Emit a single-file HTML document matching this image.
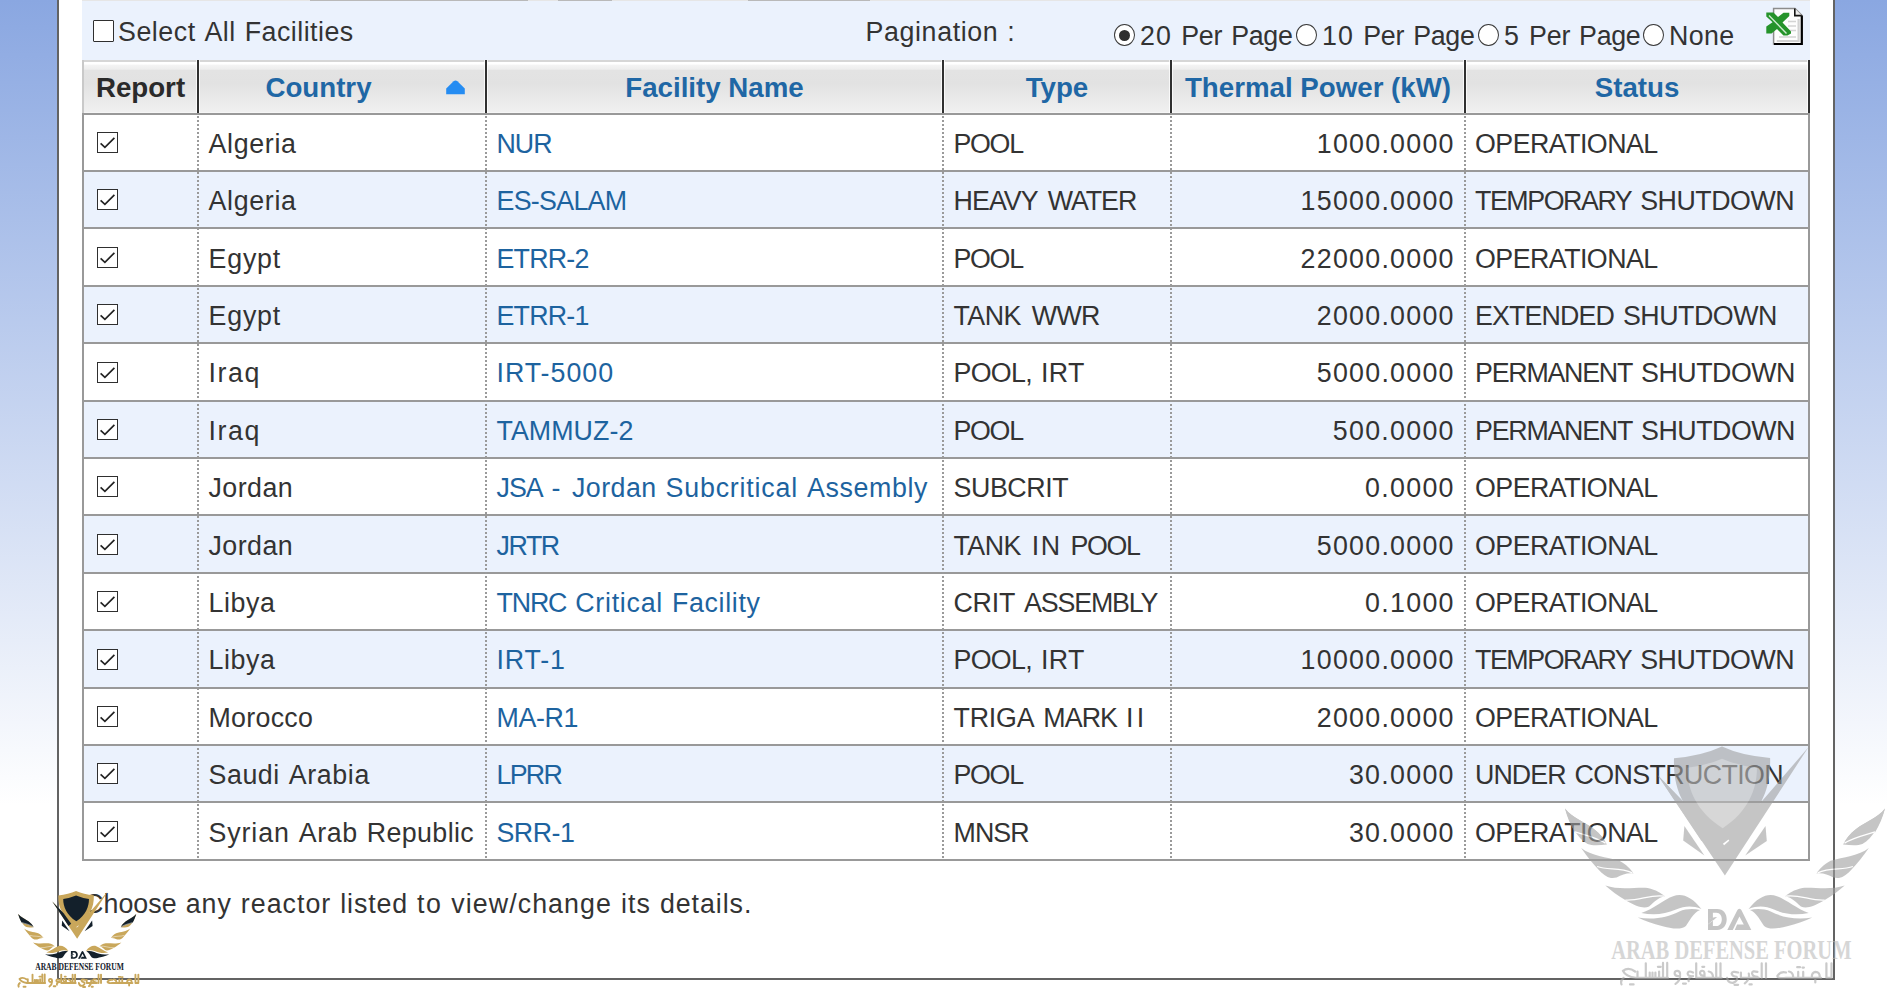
<!DOCTYPE html>
<html lang="en">
<head>
<meta charset="utf-8">
<title>Research Reactor Database</title>
<style>
html,body{margin:0;padding:0}
body{width:1887px;height:990px;overflow:hidden;position:relative;font-family:"Liberation Sans",sans-serif;font-size:26.8px;color:#333;
 background:linear-gradient(to bottom,#8aa7e1 0px,#ffffff 805px,#ffffff 990px);}
#wrap{position:absolute;left:57px;top:-10px;width:1774px;height:986px;border:2px solid #636363;background:#fff}
#panel{position:absolute;left:82px;top:0;width:1728px;height:62px;background:#ebf2fd}
#strip{position:absolute;left:82px;top:0;width:1728px;height:1px;background:#e6e6e6}
.seg{position:absolute;top:0;height:1px;background:#b9b9b9}
.t{position:absolute;white-space:nowrap;letter-spacing:1.46px;line-height:30px;height:30px}
.cbx{position:absolute;width:19px;height:20px;border:1px solid #2f2f2f;background:#fff;border-radius:1px}
.rad{position:absolute;width:19px;height:20px;border:1px solid #3a3a3a;background:#fff;border-radius:50%}
.rad.on:after{content:"";position:absolute;left:4px;top:4.5px;width:11px;height:11px;border-radius:50%;background:#2f2f2f}
#hdr{position:absolute;left:82px;top:60px;width:1728px;height:53px;
 background:linear-gradient(to bottom,#d6d6d6 0,#d6d6d6 2px,#ffffff 2px,#ffffff 3.8px,#f3f3f3 5.5px,#eeeeee 9px,#e3e3e3 10.5px,#e2e2e2 24px,#efefef 50px,#f0f0f0 52px,#f6f6f6 52px,#f6f6f6 53px)}
#hdr:before{content:"";position:absolute;left:0;top:0;width:2px;height:53px;background:#c9c9c9}
.hs{position:absolute;top:60px;width:2px;height:53px;background:#303030;box-shadow:-1px 0 0 rgba(255,255,255,.75),1px 0 0 rgba(255,255,255,.75)}
.h{position:absolute;top:68px;height:40px;line-height:40px;font-weight:bold;font-size:27.7px;color:#1f67a5;text-align:center;white-space:nowrap}
#tbl{position:absolute;left:82px;top:113px;width:1724px;height:746px;border:2px solid #999;border-top:none}
.dot{position:absolute;top:116px;width:2px;height:743px;background:repeating-linear-gradient(to bottom,#9a9a9a 0,#9a9a9a 2px,transparent 2px,transparent 4px)}
.row{position:absolute;left:84px;width:1724px;border-top:2px solid #999;box-sizing:border-box;background:#fff}
.row.alt{background:#ebf2fd}
.cb{position:absolute;left:13px;top:17px;width:19px;height:19px;border:1px solid #2f2f2f;background:#fff;display:block}
.cb svg{position:absolute;left:-1px;top:-1px}
.c{position:absolute;letter-spacing:1.46px;top:10px;height:38px;line-height:38px;white-space:nowrap}
.c2{left:124.5px}.c3{left:412.5px}.c4{left:869.5px}.c5{right:354.5px;text-align:right}.c6{left:1391px}
.lk{color:#1d639f}
.lgo{position:absolute;overflow:hidden}
#lg .a{fill:var(--a)}#lg .b{fill:var(--b)}#lg .c{fill:var(--c)}#lg .w{fill:#fff}
#lg .v{fill:none;stroke:#fff;stroke-width:1.3}
#lgar .ar{fill:none;stroke:var(--d);stroke-width:var(--sw);stroke-linecap:round;stroke-linejoin:round}
#lgtx .tx{font-family:"Liberation Serif",serif;font-weight:bold;font-size:26.7px;fill:var(--e)}
</style>
</head>
<body>
<div id="wrap"></div>
<div id="panel"></div>
<div id="strip"></div>
<div class="seg" style="left:310px;width:218px"></div>
<div class="seg" style="left:558px;width:54px"></div>
<div class="seg" style="left:748px;width:122px"></div>
<div class="cbx" style="left:93px;top:20px"></div>
<div class="t" style="left:118px;top:17px"><span style="letter-spacing:0.52px">Select</span> <span style="letter-spacing:0.48px">All</span> <span style="letter-spacing:0.48px">Facilities</span></div>
<div class="t" style="left:865.5px;top:17px"><span style="letter-spacing:0.62px">Pagination</span> <span style="letter-spacing:4.06px">:</span></div>
<div class="rad on" style="left:1114px;top:24px"></div>
<div class="t" style="left:1140px;top:21px"><span style="letter-spacing:1.2px">20</span> <span style="letter-spacing:-0.18px">Per</span> <span style="letter-spacing:-0.31px">Page</span></div>
<div class="rad" style="left:1296px;top:24px"></div>
<div class="t" style="left:1322px;top:21px"><span style="letter-spacing:1.2px">10</span> <span style="letter-spacing:-0.18px">Per</span> <span style="letter-spacing:-0.31px">Page</span></div>
<div class="rad" style="left:1478px;top:24px"></div>
<div class="t" style="left:1504px;top:21px"><span style="letter-spacing:1.2px">5</span> <span style="letter-spacing:-0.18px">Per</span> <span style="letter-spacing:-0.31px">Page</span></div>
<div class="rad" style="left:1643px;top:24px"></div>
<div class="t" style="left:1669px;top:21px"><span style="letter-spacing:0.34px">None</span></div>
<svg id="xl" style="position:absolute;left:1764px;top:6px" width="42" height="42" viewBox="0 0 42 42">
 <path d="M9.6 2.6 H31 L37.8 9.4 V38 H9.6 Z" fill="#fdfdfd" stroke="#8c8c8c" stroke-width="1.5"/>
 <path d="M12.8 35 H34.6 V13" fill="none" stroke="#d2d2d2" stroke-width="2.2"/>
 <path d="M10 38 H37.8 V9.6" fill="none" stroke="#000" stroke-width="2.2"/>
 <path d="M30.8 2.6 V9.6 H37.8" fill="#ededed" stroke="#151515" stroke-width="1.6"/>
 <path d="M24 15.5h8M24 20h8M24 24.5h8M15 31h17" stroke="#d4d4d4" stroke-width="1.5"/>
 <path d="M2.3 6.4 H9.5 L14 11 L19.5 6.8 H25.3 V10 L18.5 16.5 L27 25.5 V27.5 L23.5 29.6 H19.5 L13 23 L7.5 27.4 H2.3 V20.6 L8.6 16.2 L2.3 10.6 Z" fill="#25932a"/>
 <path d="M5 9.6 L22.5 27.4" stroke="#cfeacf" stroke-width="1.4"/>
</svg>
<div id="hdr"></div>
<div class="hs" style="left:197px"></div>
<div class="hs" style="left:485px"></div>
<div class="hs" style="left:942px"></div>
<div class="hs" style="left:1170px"></div>
<div class="hs" style="left:1464px"></div>
<div class="hs" style="left:1808px"></div>
<div class="h" style="left:84px;width:113px;color:#2a2a2a">Report</div>
<div class="h" style="left:199px;width:239px">Country</div>
<svg style="position:absolute;left:445px;top:79px" width="22" height="17" viewBox="0 0 22 17"><path d="M1.2 15.2 V9.6 L8.6 2.2 Q10.5 0.6 12.4 2.2 L19.8 9.6 V15.2 Z" fill="#258cf2"/></svg>
<div class="h" style="left:487px;width:455px">Facility Name</div>
<div class="h" style="left:944px;width:226px">Type</div>
<div class="h" style="left:1172px;width:292px">Thermal Power (kW)</div>
<div class="h" style="left:1466px;width:342px">Status</div>
<div id="tbl"></div>

<div class="row" style="top:113px;height:57px">
<i class="cb" style="top:17px"><svg viewBox="0 0 21 21" width="21" height="21"><path d="M3.6 11.4 L7.9 15.3 L17.4 5.8" fill="none" stroke="#222" stroke-width="1.7"/></svg></i>
<div class="c c2"><span style="letter-spacing:0.67px">Algeria</span></div>
<div class="c c3 lk"><span style="letter-spacing:-0.99px">NUR</span></div>
<div class="c c4"><span style="letter-spacing:-1.3px">POOL</span></div>
<div class="c c5"><span style="letter-spacing:1.26px;margin-right:-1.26px">1000.0000</span></div>
<div class="c c6"><span style="letter-spacing:-0.54px">OPERATIONAL</span></div>
</div>
<div class="row alt" style="top:170px;height:57px">
<i class="cb" style="top:17px"><svg viewBox="0 0 21 21" width="21" height="21"><path d="M3.6 11.4 L7.9 15.3 L17.4 5.8" fill="none" stroke="#222" stroke-width="1.7"/></svg></i>
<div class="c c2"><span style="letter-spacing:0.67px">Algeria</span></div>
<div class="c c3 lk"><span style="letter-spacing:-0.7px">ES-SALAM</span></div>
<div class="c c4"><span style="letter-spacing:-0.92px;margin-right:1.0px">HEAVY</span> <span style="letter-spacing:-1.04px;margin-right:3.0px">WATER</span></div>
<div class="c c5"><span style="letter-spacing:1.26px;margin-right:-1.26px">15000.0000</span></div>
<div class="c c6"><span style="letter-spacing:-1.44px">TEMPORARY</span> <span style="letter-spacing:-0.48px">SHUTDOWN</span></div>
</div>
<div class="row" style="top:227px;height:58px">
<div style="position:absolute;left:0;top:1px;width:100%;height:1px">
<i class="cb" style="top:17px"><svg viewBox="0 0 21 21" width="21" height="21"><path d="M3.6 11.4 L7.9 15.3 L17.4 5.8" fill="none" stroke="#222" stroke-width="1.7"/></svg></i>
<div class="c c2"><span style="letter-spacing:0.81px">Egypt</span></div>
<div class="c c3 lk"><span style="letter-spacing:-0.77px">ETRR-2</span></div>
<div class="c c4"><span style="letter-spacing:-1.3px">POOL</span></div>
<div class="c c5"><span style="letter-spacing:1.26px;margin-right:-1.26px">22000.0000</span></div>
<div class="c c6"><span style="letter-spacing:-0.54px">OPERATIONAL</span></div>
</div>
</div>
<div class="row alt" style="top:285px;height:57px">
<i class="cb" style="top:17px"><svg viewBox="0 0 21 21" width="21" height="21"><path d="M3.6 11.4 L7.9 15.3 L17.4 5.8" fill="none" stroke="#222" stroke-width="1.7"/></svg></i>
<div class="c c2"><span style="letter-spacing:0.81px">Egypt</span></div>
<div class="c c3 lk"><span style="letter-spacing:-0.77px">ETRR-1</span></div>
<div class="c c4"><span style="letter-spacing:-0.56px;margin-right:2.2px">TANK</span> <span style="letter-spacing:-0.75px">WWR</span></div>
<div class="c c5"><span style="letter-spacing:1.26px;margin-right:-1.26px">2000.0000</span></div>
<div class="c c6"><span style="letter-spacing:-0.87px">EXTENDED</span> <span style="letter-spacing:-0.48px">SHUTDOWN</span></div>
</div>
<div class="row" style="top:342px;height:58px">
<i class="cb" style="top:18px"><svg viewBox="0 0 21 21" width="21" height="21"><path d="M3.6 11.4 L7.9 15.3 L17.4 5.8" fill="none" stroke="#222" stroke-width="1.7"/></svg></i>
<div class="c c2"><span style="letter-spacing:1.57px">Iraq</span></div>
<div class="c c3 lk"><span style="letter-spacing:0.97px">IRT-5000</span></div>
<div class="c c4"><span style="letter-spacing:-0.69px">POOL,</span> <span style="letter-spacing:0.4px">IRT</span></div>
<div class="c c5"><span style="letter-spacing:1.26px;margin-right:-1.26px">5000.0000</span></div>
<div class="c c6"><span style="letter-spacing:-1.24px">PERMANENT</span> <span style="letter-spacing:-0.48px">SHUTDOWN</span></div>
</div>
<div class="row alt" style="top:400px;height:57px">
<i class="cb" style="top:17px"><svg viewBox="0 0 21 21" width="21" height="21"><path d="M3.6 11.4 L7.9 15.3 L17.4 5.8" fill="none" stroke="#222" stroke-width="1.7"/></svg></i>
<div class="c c2"><span style="letter-spacing:1.57px">Iraq</span></div>
<div class="c c3 lk"><span style="letter-spacing:0.05px">TAMMUZ-2</span></div>
<div class="c c4"><span style="letter-spacing:-1.3px">POOL</span></div>
<div class="c c5"><span style="letter-spacing:1.27px;margin-right:-1.27px">500.0000</span></div>
<div class="c c6"><span style="letter-spacing:-1.24px">PERMANENT</span> <span style="letter-spacing:-0.48px">SHUTDOWN</span></div>
</div>
<div class="row" style="top:457px;height:57px">
<i class="cb" style="top:17px"><svg viewBox="0 0 21 21" width="21" height="21"><path d="M3.6 11.4 L7.9 15.3 L17.4 5.8" fill="none" stroke="#222" stroke-width="1.7"/></svg></i>
<div class="c c2"><span style="letter-spacing:0.46px">Jordan</span></div>
<div class="c c3 lk"><span style="letter-spacing:-1.0px">JSA</span> <span style="letter-spacing:2.58px">-</span> <span style="letter-spacing:0.46px">Jordan</span> <span style="letter-spacing:0.8px">Subcritical</span> <span style="letter-spacing:0.63px">Assembly</span></div>
<div class="c c4"><span style="letter-spacing:-0.41px">SUBCRIT</span></div>
<div class="c c5"><span style="letter-spacing:1.3px;margin-right:-1.3px">0.0000</span></div>
<div class="c c6"><span style="letter-spacing:-0.54px">OPERATIONAL</span></div>
</div>
<div class="row alt" style="top:514px;height:58px">
<div style="position:absolute;left:0;top:1px;width:100%;height:1px">
<i class="cb" style="top:17px"><svg viewBox="0 0 21 21" width="21" height="21"><path d="M3.6 11.4 L7.9 15.3 L17.4 5.8" fill="none" stroke="#222" stroke-width="1.7"/></svg></i>
<div class="c c2"><span style="letter-spacing:0.46px">Jordan</span></div>
<div class="c c3 lk"><span style="letter-spacing:-1.42px">JRTR</span></div>
<div class="c c4"><span style="letter-spacing:-0.56px;margin-right:2.2px">TANK</span> <span style="letter-spacing:1.41px">IN</span> <span style="letter-spacing:-1.3px">POOL</span></div>
<div class="c c5"><span style="letter-spacing:1.26px;margin-right:-1.26px">5000.0000</span></div>
<div class="c c6"><span style="letter-spacing:-0.54px">OPERATIONAL</span></div>
</div>
</div>
<div class="row" style="top:572px;height:57px">
<i class="cb" style="top:17px"><svg viewBox="0 0 21 21" width="21" height="21"><path d="M3.6 11.4 L7.9 15.3 L17.4 5.8" fill="none" stroke="#222" stroke-width="1.7"/></svg></i>
<div class="c c2"><span style="letter-spacing:0.59px">Libya</span></div>
<div class="c c3 lk"><span style="letter-spacing:-1.15px">TNRC</span> <span style="letter-spacing:0.73px">Critical</span> <span style="letter-spacing:0.68px">Facility</span></div>
<div class="c c4"><span style="letter-spacing:-0.24px">CRIT</span> <span style="letter-spacing:-1.14px;margin-right:3.0px">ASSEMBLY</span></div>
<div class="c c5"><span style="letter-spacing:1.3px;margin-right:-1.3px">0.1000</span></div>
<div class="c c6"><span style="letter-spacing:-0.54px">OPERATIONAL</span></div>
</div>
<div class="row alt" style="top:629px;height:58px">
<i class="cb" style="top:18px"><svg viewBox="0 0 21 21" width="21" height="21"><path d="M3.6 11.4 L7.9 15.3 L17.4 5.8" fill="none" stroke="#222" stroke-width="1.7"/></svg></i>
<div class="c c2"><span style="letter-spacing:0.59px">Libya</span></div>
<div class="c c3 lk"><span style="letter-spacing:0.83px">IRT-1</span></div>
<div class="c c4"><span style="letter-spacing:-0.69px">POOL,</span> <span style="letter-spacing:0.4px">IRT</span></div>
<div class="c c5"><span style="letter-spacing:1.26px;margin-right:-1.26px">10000.0000</span></div>
<div class="c c6"><span style="letter-spacing:-1.44px">TEMPORARY</span> <span style="letter-spacing:-0.48px">SHUTDOWN</span></div>
</div>
<div class="row" style="top:687px;height:57px">
<i class="cb" style="top:17px"><svg viewBox="0 0 21 21" width="21" height="21"><path d="M3.6 11.4 L7.9 15.3 L17.4 5.8" fill="none" stroke="#222" stroke-width="1.7"/></svg></i>
<div class="c c2"><span style="letter-spacing:0.27px">Morocco</span></div>
<div class="c c3 lk"><span style="letter-spacing:-0.36px">MA-R1</span></div>
<div class="c c4"><span style="letter-spacing:-0.21px">TRIGA</span> <span style="letter-spacing:-0.9px">MARK</span> <span style="letter-spacing:3.22px">II</span></div>
<div class="c c5"><span style="letter-spacing:1.26px;margin-right:-1.26px">2000.0000</span></div>
<div class="c c6"><span style="letter-spacing:-0.54px">OPERATIONAL</span></div>
</div>
<div class="row alt" style="top:744px;height:57px">
<i class="cb" style="top:17px"><svg viewBox="0 0 21 21" width="21" height="21"><path d="M3.6 11.4 L7.9 15.3 L17.4 5.8" fill="none" stroke="#222" stroke-width="1.7"/></svg></i>
<div class="c c2"><span style="letter-spacing:0.55px">Saudi</span> <span style="letter-spacing:0.64px">Arabia</span></div>
<div class="c c3 lk"><span style="letter-spacing:-1.73px">LPRR</span></div>
<div class="c c4"><span style="letter-spacing:-1.3px">POOL</span></div>
<div class="c c5"><span style="letter-spacing:1.28px;margin-right:-1.28px">30.0000</span></div>
<div class="c c6"><span style="letter-spacing:-0.93px">UNDER</span> <span style="letter-spacing:-0.61px">CONSTRUCTION</span></div>
</div>
<div class="row" style="top:801px;height:58px">
<div style="position:absolute;left:0;top:1px;width:100%;height:1px">
<i class="cb" style="top:17px"><svg viewBox="0 0 21 21" width="21" height="21"><path d="M3.6 11.4 L7.9 15.3 L17.4 5.8" fill="none" stroke="#222" stroke-width="1.7"/></svg></i>
<div class="c c2"><span style="letter-spacing:0.89px">Syrian</span> <span style="letter-spacing:0.63px">Arab</span> <span style="letter-spacing:0.39px">Republic</span></div>
<div class="c c3 lk"><span style="letter-spacing:-0.52px">SRR-1</span></div>
<div class="c c4"><span style="letter-spacing:-0.92px">MNSR</span></div>
<div class="c c5"><span style="letter-spacing:1.28px;margin-right:-1.28px">30.0000</span></div>
<div class="c c6"><span style="letter-spacing:-0.54px">OPERATIONAL</span></div>
</div>
</div>
<div class="dot" style="left:197px"></div>
<div class="dot" style="left:485px"></div>
<div class="dot" style="left:942px"></div>
<div class="dot" style="left:1170px"></div>
<div class="dot" style="left:1464px"></div>
<div class="t" style="left:84px;top:889px"><span style="letter-spacing:0.06px">Choose</span> <span style="letter-spacing:1.01px">any</span> <span style="letter-spacing:1.01px">reactor</span> <span style="letter-spacing:0.9px">listed</span> <span style="letter-spacing:1.5px">to</span> <span style="letter-spacing:1.06px">view/change</span> <span style="letter-spacing:1.11px">its</span> <span style="letter-spacing:0.93px">details.</span></div>
<svg width="0" height="0" style="position:absolute;left:0;top:0"><defs>
<g id="lg">
<path class="a" d="M 1674.0 758.3 Q 1701.5 756.1 1722.0 746.6 Q 1742.5 756.1 1770.1 757.9 C 1770.6 776.6 1767.4 789.8 1761.0 802.2 L 1724.9 866.0 L 1683.4 802.2 C 1676.6 789.8 1673.4 776.6 1674.0 758.3 Z"/>
<path class="a" d="M 1657.6 775.1 L 1683.4 802.2 L 1701.5 822.0 L 1722.7 833.7 L 1745.4 820.6 L 1761.0 802.2 L 1808.4 747.3 L 1724.9 875.5 Z"/>
<path class="b" d="M 1657.6 775.1 L 1688.3 806.6 L 1708.8 835.2 L 1701.5 841.1 Z"/>
<path class="c" d="M 1687.2 767.8 Q 1705.9 765.6 1722.0 758.7 Q 1738.1 765.6 1756.9 767.8 C 1757.2 788.3 1748.4 811.8 1722.7 828.2 C 1696.4 811.8 1686.9 788.3 1687.2 767.8 Z"/>
<path class="b" d="M 1684.4 826.1 L 1683.2 840.5 L 1704.4 855.4 Z"/><path class="b" d="M 1765.5 826.1 L 1766.8 841.1 L 1745.2 855.4 Z"/>
<path class="w" d="M 1722.9 843.7 L 1728.5 839.6 L 1729.3 840.8 L 1724.1 845.2 Z"/>
<path class="a" d="M 1565.0 808.5 C 1572.7 818.4 1584.0 821.2 1593.9 829.0 C 1600.3 833.9 1604.6 839.6 1606.7 844.6 C 1599.6 845.3 1592.5 846.0 1587.6 844.1 C 1577.0 838.2 1569.9 824.0 1565.0 808.5 Z"/>
<path class="a" d="M 1581.2 848.1 C 1591.1 855.9 1606.7 857.3 1619.4 860.8 C 1626.5 864.4 1630.7 869.3 1633.5 873.5 C 1626.5 872.8 1622.2 875.0 1616.6 877.5 C 1609.5 879.2 1605.3 876.4 1599.6 870.7 C 1592.5 863.6 1586.9 856.6 1581.2 848.1 Z"/>
<path class="a" d="M 1605.3 885.6 C 1619.4 890.5 1636.4 887.0 1647.7 888.0 C 1656.2 889.8 1661.1 893.3 1664.7 896.2 C 1657.6 897.6 1654.8 901.8 1649.1 906.4 C 1643.4 909.2 1636.4 906.1 1626.5 900.7 C 1618.0 896.2 1610.9 890.5 1605.3 885.6 Z"/>
<path class="a" d="M 1641.3 913.1 C 1653.3 908.9 1664.7 899.0 1673.1 896.2 C 1681.6 892.6 1691.5 896.2 1701.4 908.9 C 1691.5 905.4 1684.5 906.1 1676.0 909.6 C 1664.7 914.6 1653.3 915.3 1641.3 913.1 Z"/>
<path class="b" d="M 1637.8 917.4 C 1653.3 920.2 1667.5 917.4 1678.8 911.7 C 1687.3 908.2 1694.4 908.9 1700.0 910.0 C 1692.9 913.1 1690.1 920.2 1685.9 925.9 C 1680.2 930.8 1670.3 928.0 1661.8 925.9 C 1653.3 923.8 1644.9 920.9 1637.8 917.4 Z"/>
<path class="a" d="M 1885.0 808.5 C 1877.3 818.4 1866.0 821.2 1856.1 829.0 C 1849.7 833.9 1845.4 839.6 1843.3 844.6 C 1850.4 845.3 1857.5 846.0 1862.4 844.1 C 1873.0 838.2 1880.1 824.0 1885.0 808.5 Z"/>
<path class="a" d="M 1868.8 848.1 C 1858.9 855.9 1843.3 857.3 1830.6 860.8 C 1823.5 864.4 1819.3 869.3 1816.5 873.5 C 1823.5 872.8 1827.8 875.0 1833.4 877.5 C 1840.5 879.2 1844.7 876.4 1850.4 870.7 C 1857.5 863.6 1863.1 856.6 1868.8 848.1 Z"/>
<path class="a" d="M 1844.7 885.6 C 1830.6 890.5 1813.6 887.0 1802.3 888.0 C 1793.8 889.8 1788.9 893.3 1785.3 896.2 C 1792.4 897.6 1795.2 901.8 1800.9 906.4 C 1806.6 909.2 1813.6 906.1 1823.5 900.7 C 1832.0 896.2 1839.1 890.5 1844.7 885.6 Z"/>
<path class="a" d="M 1808.7 913.1 C 1796.7 908.9 1785.3 899.0 1776.9 896.2 C 1768.4 892.6 1758.5 896.2 1748.6 908.9 C 1758.5 905.4 1765.5 906.1 1774.0 909.6 C 1785.3 914.6 1796.7 915.3 1808.7 913.1 Z"/>
<path class="b" d="M 1812.2 917.4 C 1796.7 920.2 1782.5 917.4 1771.2 911.7 C 1762.7 908.2 1755.6 908.9 1750.0 910.0 C 1757.1 913.1 1759.9 920.2 1764.1 925.9 C 1769.8 930.8 1779.7 928.0 1788.2 925.9 C 1796.7 923.8 1805.1 920.9 1812.2 917.4 Z"/>
<path class="b" d="M 1565.0 808.5 C 1572.7 818.4 1584.0 821.2 1593.9 829.0 C 1600.3 833.9 1604.6 839.6 1606.7 844.6 C 1596.8 838.2 1584.0 835.4 1574.9 832.2 C 1570.6 825.5 1567.1 817.0 1565.0 808.5 Z"/><path class="b" d="M 1885.0 808.5 C 1877.3 818.4 1866.0 821.2 1856.1 829.0 C 1849.7 833.9 1845.4 839.6 1843.3 844.6 C 1853.2 838.2 1866.0 835.4 1875.1 832.2 C 1879.4 825.5 1882.9 817.0 1885.0 808.5 Z"/>
<path class="v" d="M 1574.9 831.8 C 1584.0 834.7 1596.8 837.5 1605.5 843.1"/>
<path class="v" d="M 1597.1 866.5 C 1608.1 870.7 1619.4 866.5 1632.4 872.8"/>
<path class="v" d="M 1625.3 900.1 C 1639.2 901.1 1650.5 894.1 1664.1 896.2"/>
<path class="v" d="M 1875.1 831.8 C 1866.0 834.7 1853.2 837.5 1844.5 843.1"/>
<path class="v" d="M 1852.9 866.5 C 1841.9 870.7 1830.6 866.5 1817.6 872.8"/>
<path class="v" d="M 1824.7 900.1 C 1810.8 901.1 1799.5 894.1 1785.9 896.2"/>
<path class="b" fill-rule="evenodd" d="M 1708.0 909.1 L 1717.1 909.1 C 1723.5 909.1 1726.7 914.0 1726.7 919.3 C 1726.7 925.0 1723.5 929.9 1717.1 929.9 L 1708.0 929.9 Z M 1712.9 912.7 L 1712.9 926.1 L 1716.3 926.1 C 1720.1 926.1 1721.8 922.9 1721.8 919.3 C 1721.8 915.7 1720.1 912.7 1716.3 912.7 Z"/>
<path class="w" d="M 1707.6 919.9 C 1712.0 917.8 1715.4 917.0 1719.7 917.5 L 1717.1 919.1 C 1713.7 919.9 1710.3 922.5 1707.6 924.8 Z"/>
<path class="b" d="M 1708.0 919.3 C 1711.2 917.8 1713.7 917.2 1717.1 917.0 L 1713.7 919.9 C 1711.2 921.2 1709.5 922.9 1708.0 924.4 Z"/>
<path class="b" d="M 1739.4 908.7 Q 1740.9 908.7 1741.5 910.2 L 1751.3 929.9 L 1734.7 929.9 L 1737.1 924.6 L 1743.8 924.6 L 1739.4 916.5 L 1732.8 929.9 L 1727.3 929.9 L 1737.3 910.2 Q 1737.9 908.7 1739.4 908.7 Z"/>
</g>
<g id="lgtx"><text class="tx" x="1611.2" y="958.6" textLength="240.3" lengthAdjust="spacingAndGlyphs">ARAB DEFENSE FORUM</text></g>
<g id="lgar"><path class="ar" d="M 1635.1 971.5 Q 1628.6 966.8 1622.9 970.8 Q 1625.8 976.8 1635.8 977.9 L 1668.0 977.9 M 1623.6 977.9 Q 1620.0 980.8 1621.5 984.4 M 1637.5 971.5 L 1637.5 977.9 M 1645.8 963.3 L 1645.8 977.9 M 1649.7 972.5 L 1649.7 977.9 M 1652.5 972.5 L 1652.5 977.9 M 1655.4 972.5 L 1655.4 977.9 M 1659.1 971.5 L 1659.1 977.9 M 1663.0 962.9 L 1663.0 977.9 M 1667.2 962.9 L 1667.2 977.9 M 1680.1 974.3 Q 1680.1 970.8 1677.3 970.8 Q 1674.4 970.8 1674.7 973.9 Q 1675.5 976.8 1680.1 975.8 Q 1680.1 980.8 1675.5 983.9 M 1693.0 972.5 Q 1688.0 970.1 1687.6 973.6 Q 1688.0 976.5 1693.0 976.2 Q 1687.6 977.4 1688.7 981.1 M 1696.2 963.3 L 1696.2 977.9 L 1714.5 977.9 M 1704.5 977.9 L 1704.5 973.3 Q 1704.2 970.5 1701.9 970.8 Q 1699.6 971.3 1700.2 973.9 Q 1701.0 976.2 1704.5 975.6 M 1708.7 971.5 Q 1713.3 972.5 1713.0 977.9 M 1716.2 963.3 L 1716.2 977.9 L 1721.6 977.9 M 1720.5 963.3 L 1720.5 977.9 M 1738.1 972.5 Q 1732.4 970.8 1731.6 973.6 Q 1732.4 976.5 1736.6 976.8 Q 1738.5 980.8 1733.1 982.9 Q 1728.1 983.4 1727.1 977.9 M 1740.9 972.5 L 1740.9 977.9 L 1758.8 977.9 M 1748.8 973.6 Q 1750.0 979.4 1744.8 983.4 M 1757.4 971.9 Q 1752.2 970.2 1752.0 973.3 Q 1752.5 976.5 1757.4 976.8 M 1761.7 963.3 L 1761.7 977.9 M 1766.0 963.3 L 1766.0 977.9 M 1786.0 972.5 Q 1780.6 971.1 1777.4 975.8 Q 1776.9 978.8 1786.0 977.9 L 1821.1 977.9 M 1788.9 971.5 Q 1793.4 972.5 1793.2 977.9 M 1798.2 971.9 L 1798.2 977.9 M 1803.2 971.9 L 1803.2 977.9 M 1819.6 977.9 Q 1820.3 971.9 1815.3 971.9 Q 1811.5 972.5 1811.8 977.9 M 1815.3 977.9 L 1815.3 982.5 M 1826.4 963.3 L 1826.4 977.9 L 1831.5 977.9 L 1831.5 963.3"/><path class="ar" d="M 1657.9 966.8 L 1660.8 966.8 M 1702.3 966.8 L 1704.2 966.8 M 1797.2 967.2 L 1800.0 967.2 M 1802.5 967.6 L 1803.9 967.6 M 1734.5 984.8 L 1738.1 984.8 M 1630.0 984.4 L 1633.6 984.4 M 1683.0 983.6 L 1685.9 983.6 M 1749.5 984.4 L 1751.7 984.4"/>
</g>
</defs></svg>
<svg class="lgo" style="left:1555px;top:735px;opacity:.6;--a:#a0a0a0;--b:#a0a0a0;--c:#bdbdbd;--d:#a8a8a8;--e:#bcbcbc;--sw:2.2" width="332" height="255" viewBox="1555 735 332 255"><use href="#lg"/><use href="#lgtx"/><use href="#lgar"/></svg>
<svg class="lgo" style="left:0;top:880px;--a:#c9a75b;--b:#13202b;--c:#13202b;--d:#c9a75b;--e:#13202b;--sw:3.3" width="160" height="110" viewBox="1515.84 716.52 433.6 298.1"><use href="#lg"/><use href="#lgtx" transform="translate(0,2.4)"/><use href="#lgar" transform="translate(1564.1,972.3) scale(1.5445,1.553) translate(-1620,-962.9)"/></svg>
</body>
</html>
